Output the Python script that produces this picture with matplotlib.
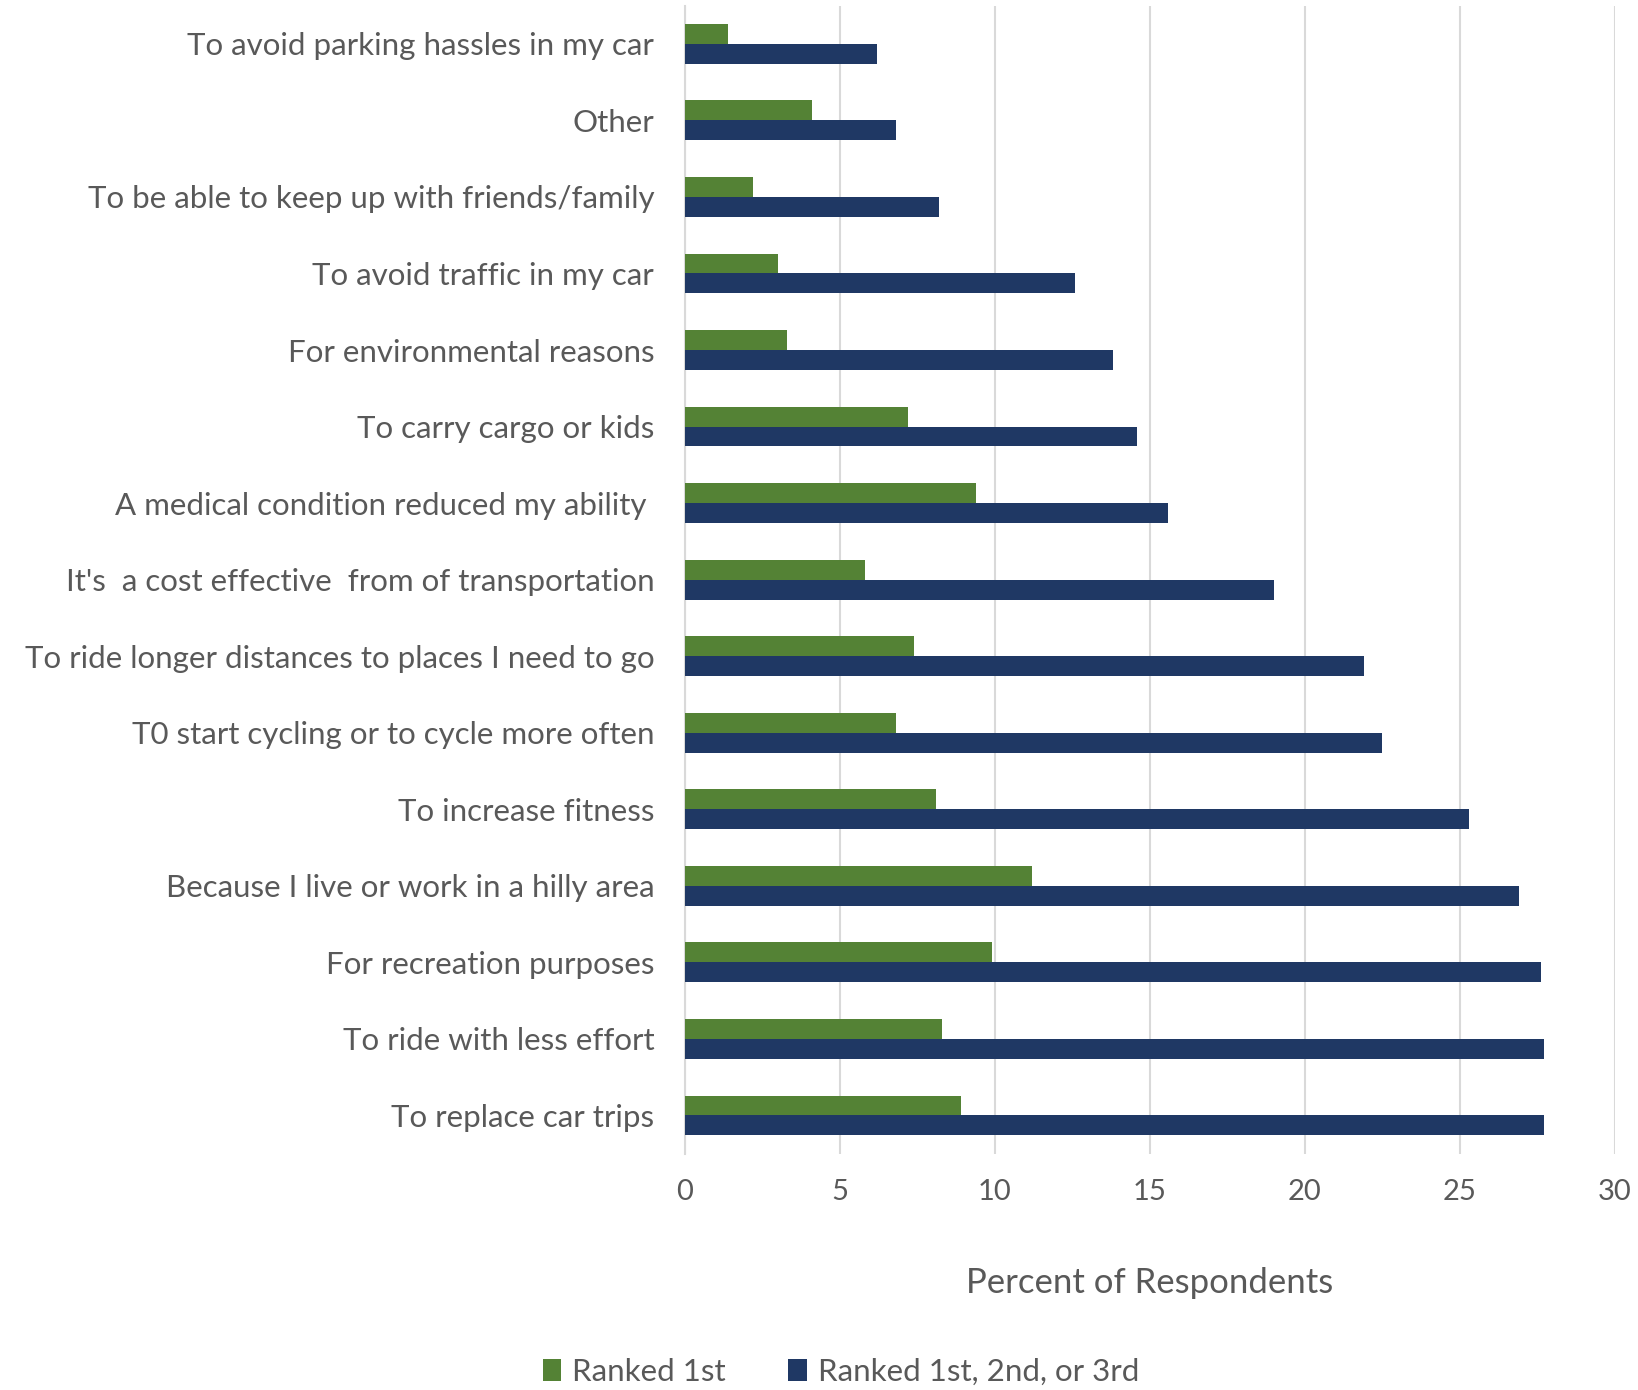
import matplotlib.pyplot as plt
import numpy as np

plt.rcParams['font.family'] = ['Lato', 'DejaVu Sans']

reasons = [
    'To avoid parking hassles in my car',
    'Other',
    'To be able to keep up with friends/family',
    'To avoid traffic in my car',
    'For environmental reasons',
    'To carry cargo or kids',
    'A medical condition reduced my ability ',
    "It's  a cost effective  from of transportation",
    'To ride longer distances to places I need to go',
    'T0 start cycling or to cycle more often',
    'To increase fitness',
    'Because I live or work in a hilly area',
    'For recreation purposes',
    'To ride with less effort',
    'To replace car trips',
]
ranked_1st = [1.4, 4.1, 2.2, 3.0, 3.3, 7.2, 9.4, 5.8, 7.4, 6.8, 8.1, 11.2, 9.9, 8.3, 8.9]
ranked_top3 = [6.2, 6.8, 8.2, 12.6, 13.8, 14.6, 15.6, 19.0, 21.9, 22.5, 25.3, 26.9, 27.6, 27.7, 27.7]

green = '#548235'
navy = '#1F3864'
txt = '#595959'

fig = plt.figure(figsize=(16.38, 13.9), dpi=100)
ax = fig.add_axes([0.418, 0.170, 0.568, 0.826])

y = np.arange(len(reasons))
h = 0.26
ax.barh(y - h / 2, ranked_1st, height=h, color=green, label='Ranked 1st', zorder=3)
ax.barh(y + h / 2, ranked_top3, height=h, color=navy, label='Ranked 1st, 2nd, or 3rd', zorder=3)

ax.set_ylim(len(reasons) - 0.5, -0.5)
ax.set_xlim(0, 30)
ax.set_xticks(range(0, 31, 5))
ax.set_yticks(y)
ax.set_yticklabels(reasons, fontsize=22.5, color=txt)
ax.tick_params(axis='x', labelsize=21, labelcolor=txt, length=0, pad=18)
ax.tick_params(axis='y', length=0, pad=22)
ax.grid(axis='x', color='#d9d9d9', linewidth=1.5, zorder=0)

for s in ['top', 'right', 'bottom']:
    ax.spines[s].set_visible(False)
ax.spines['left'].set_color('#d9d9d9')
ax.spines['left'].set_linewidth(1.5)

ax.set_xlabel('Percent of Respondents', fontsize=25, color=txt, labelpad=45)

leg = ax.legend(loc='center', bbox_to_anchor=(0.168, -0.19), ncol=2, frameon=False,
                fontsize=22.5, handlelength=0.6, handleheight=0.75, columnspacing=2.0,
                handletextpad=0.35)
for t in leg.get_texts():
    t.set_color(txt)

fig.savefig('out.png', dpi=100)
